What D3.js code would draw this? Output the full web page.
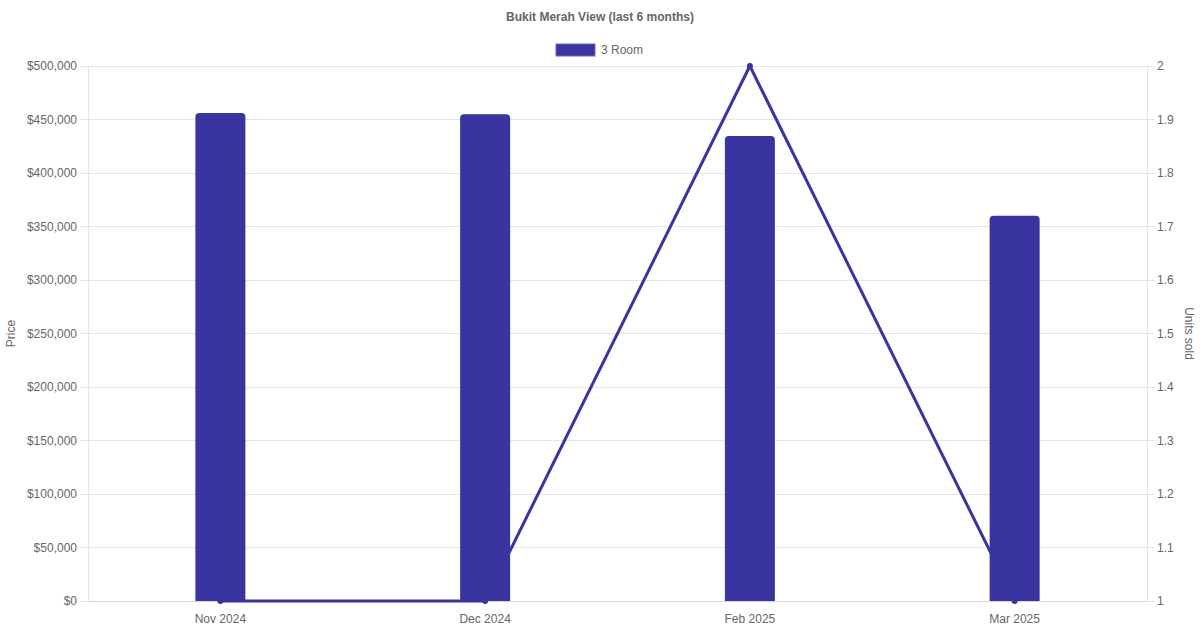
<!DOCTYPE html>
<html><head><meta charset="utf-8">
<script src="https://cdn.jsdelivr.net/npm/d3@7"></script>
<style>body{margin:0;background:#fff}svg{display:block;font-family:"Liberation Sans",Arial,sans-serif}</style>
</head><body><svg id="c" width="1200" height="630"></svg>
<script>
const categories = ["Nov 2024","Dec 2024","Feb 2025","Mar 2025"];
const priceValues = [456000, 455000, 434500, 360000];
const unitsSold = [1, 1, 2, 1];
const priceTicks = [0,50000,100000,150000,200000,250000,300000,350000,400000,450000,500000];
const unitTicks = [1,1.1,1.2,1.3,1.4,1.5,1.6,1.7,1.8,1.9,2];
const seriesName = "3 Room";
const title = "Bukit Merah View (last 6 months)";

const svg = d3.select("#c");
const L = 88, R = 1147, T = 66, B = 601;
const color = "#3a34a0", grid = "#e5e5e5", txt = "#666";
const x = d3.scaleBand().domain(categories).range([L, R]);
const yL = d3.scaleLinear().domain([0, 500000]).range([B, T]);
const yR = d3.scaleLinear().domain([1, 2]).range([B, T]);

// gridlines
svg.append("g").selectAll("line").data(priceTicks).join("line")
  .attr("x1", L - 8).attr("x2", R).attr("y1", d => yL(d)).attr("y2", d => yL(d))
  .attr("stroke", grid).attr("shape-rendering","crispEdges");
svg.append("g").selectAll("line").data(unitTicks).join("line")
  .attr("x1", R).attr("x2", R + 8).attr("y1", d => yR(d)).attr("y2", d => yR(d))
  .attr("stroke", grid).attr("shape-rendering","crispEdges");
svg.append("line").attr("x1",L).attr("x2",L).attr("y1",T).attr("y2",B).attr("stroke",grid).attr("shape-rendering","crispEdges");
svg.append("line").attr("x1",R).attr("x2",R).attr("y1",T).attr("y2",B).attr("stroke",grid).attr("shape-rendering","crispEdges");
svg.append("line").attr("x1",L).attr("x2",R).attr("y1",B).attr("y2",B).attr("stroke","#d6d6d6").attr("shape-rendering","crispEdges");

// axes labels
const fmt = d3.format(",");
svg.append("g").selectAll("text").data(priceTicks).join("text")
  .attr("x", L - 11).attr("y", d => yL(d)).attr("dy","0.35em").attr("text-anchor","end")
  .attr("font-size",12).attr("fill",txt).text(d => "$" + fmt(d));
svg.append("g").selectAll("text").data(unitTicks).join("text")
  .attr("x", R + 10).attr("y", d => yR(d)).attr("dy","0.35em")
  .attr("font-size",12).attr("fill",txt).text(d => d3.format("~g")(d));
svg.append("g").selectAll("text").data(categories).join("text")
  .attr("x", d => x(d) + x.bandwidth()/2).attr("y", 619).attr("dy","0.35em").attr("text-anchor","middle")
  .attr("font-size",12).attr("fill",txt).text(d => d);

svg.append("text").attr("transform",`translate(11,${(T+B)/2}) rotate(-90)`).attr("dy","0.35em")
  .attr("text-anchor","middle").attr("font-size",12).attr("fill",txt).text("Price");
svg.append("text").attr("transform",`translate(1189,${(T+B)/2}) rotate(90)`).attr("dy","0.35em")
  .attr("text-anchor","middle").attr("font-size",12).attr("fill",txt).text("Units sold");

// title & legend
svg.append("text").attr("x",600).attr("y",17).attr("dy","0.35em").attr("text-anchor","middle")
  .attr("font-size",12).attr("font-weight","bold").attr("fill",txt).text(title);
svg.append("rect").attr("x",556).attr("y",44).attr("width",39).attr("height",12).attr("fill",color)
  .attr("stroke","#6c68c0").attr("stroke-width",1);
svg.append("text").attr("x",601).attr("y",50).attr("dy","0.35em").attr("font-size",12).attr("fill",txt).text(seriesName);

// bars with rounded top corners
const bw = 50, r = 4;
svg.append("g").selectAll("path").data(categories).join("path")
  .attr("d", (d,i) => {
    const cx = x(d) + x.bandwidth()/2, x0 = cx - bw/2, x1 = cx + bw/2, y0 = yL(priceValues[i]), yb = yL(0);
    return `M${x0},${yb}V${y0+r}Q${x0},${y0} ${x0+r},${y0}H${x1-r}Q${x1},${y0} ${x1},${y0+r}V${yb}Z`;
  })
  .attr("fill", color);

// line
const pts = categories.map((d,i) => [x(d) + x.bandwidth()/2, yR(unitsSold[i])]);
svg.append("path").attr("d", d3.line()(pts)).attr("fill","none").attr("stroke",color).attr("stroke-width",3);
svg.append("g").selectAll("circle").data(pts).join("circle")
  .attr("cx", d => d[0]).attr("cy", d => d[1]).attr("r", 3).attr("fill", color);
</script></body></html>
